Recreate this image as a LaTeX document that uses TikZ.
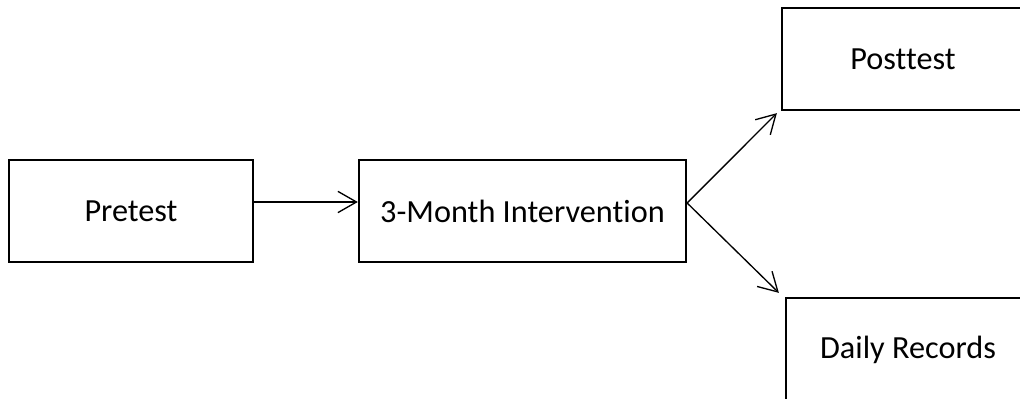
\documentclass[tikz,border=0pt]{standalone}
\usepackage{fontspec}
\setmainfont[Ligatures={NoCommon,NoRare}]{Carlito}
\usetikzlibrary{arrows.meta}
\begin{document}
\begin{tikzpicture}[x=0.75pt,y=-0.75pt,
  box/.style={draw,line width=1.7pt,fill=white,inner sep=0pt,font=\fontsize{24.2}{28}\selectfont},
  conn/.style={line width=1pt,-{Straight Barb[length=14pt,width=16pt,line width=1pt]}}]
\useasboundingbox (0,0) rectangle (1020,399);
\fill[white] (0,0) rectangle (1020,399);
\clip (0,0) rectangle (1020,399);
\node[box,minimum width=183pt,minimum height=76.5pt] (pre) at (131,211) {Pretest};
\node[box,minimum width=245.25pt,minimum height=76.5pt] (int) at (522.5,211) {3-Month Intervention};
\node[box,minimum width=181.5pt,minimum height=76.5pt] (post) at (903,59) {Posttest};
\node[box,minimum width=183pt,minimum height=78pt] (daily) at (908,350) {Daily Records};
\draw[conn] ([yshift=6.75pt]pre.east) -- ([yshift=6.75pt]int.west);
\draw[conn] ([yshift=6pt]int.east) -- ([shift={(-4,2)}]post.south west);
\draw[conn] ([yshift=6pt]int.east) -- ([shift={(-6,-4)}]daily.north west);
\end{tikzpicture}
\end{document}
